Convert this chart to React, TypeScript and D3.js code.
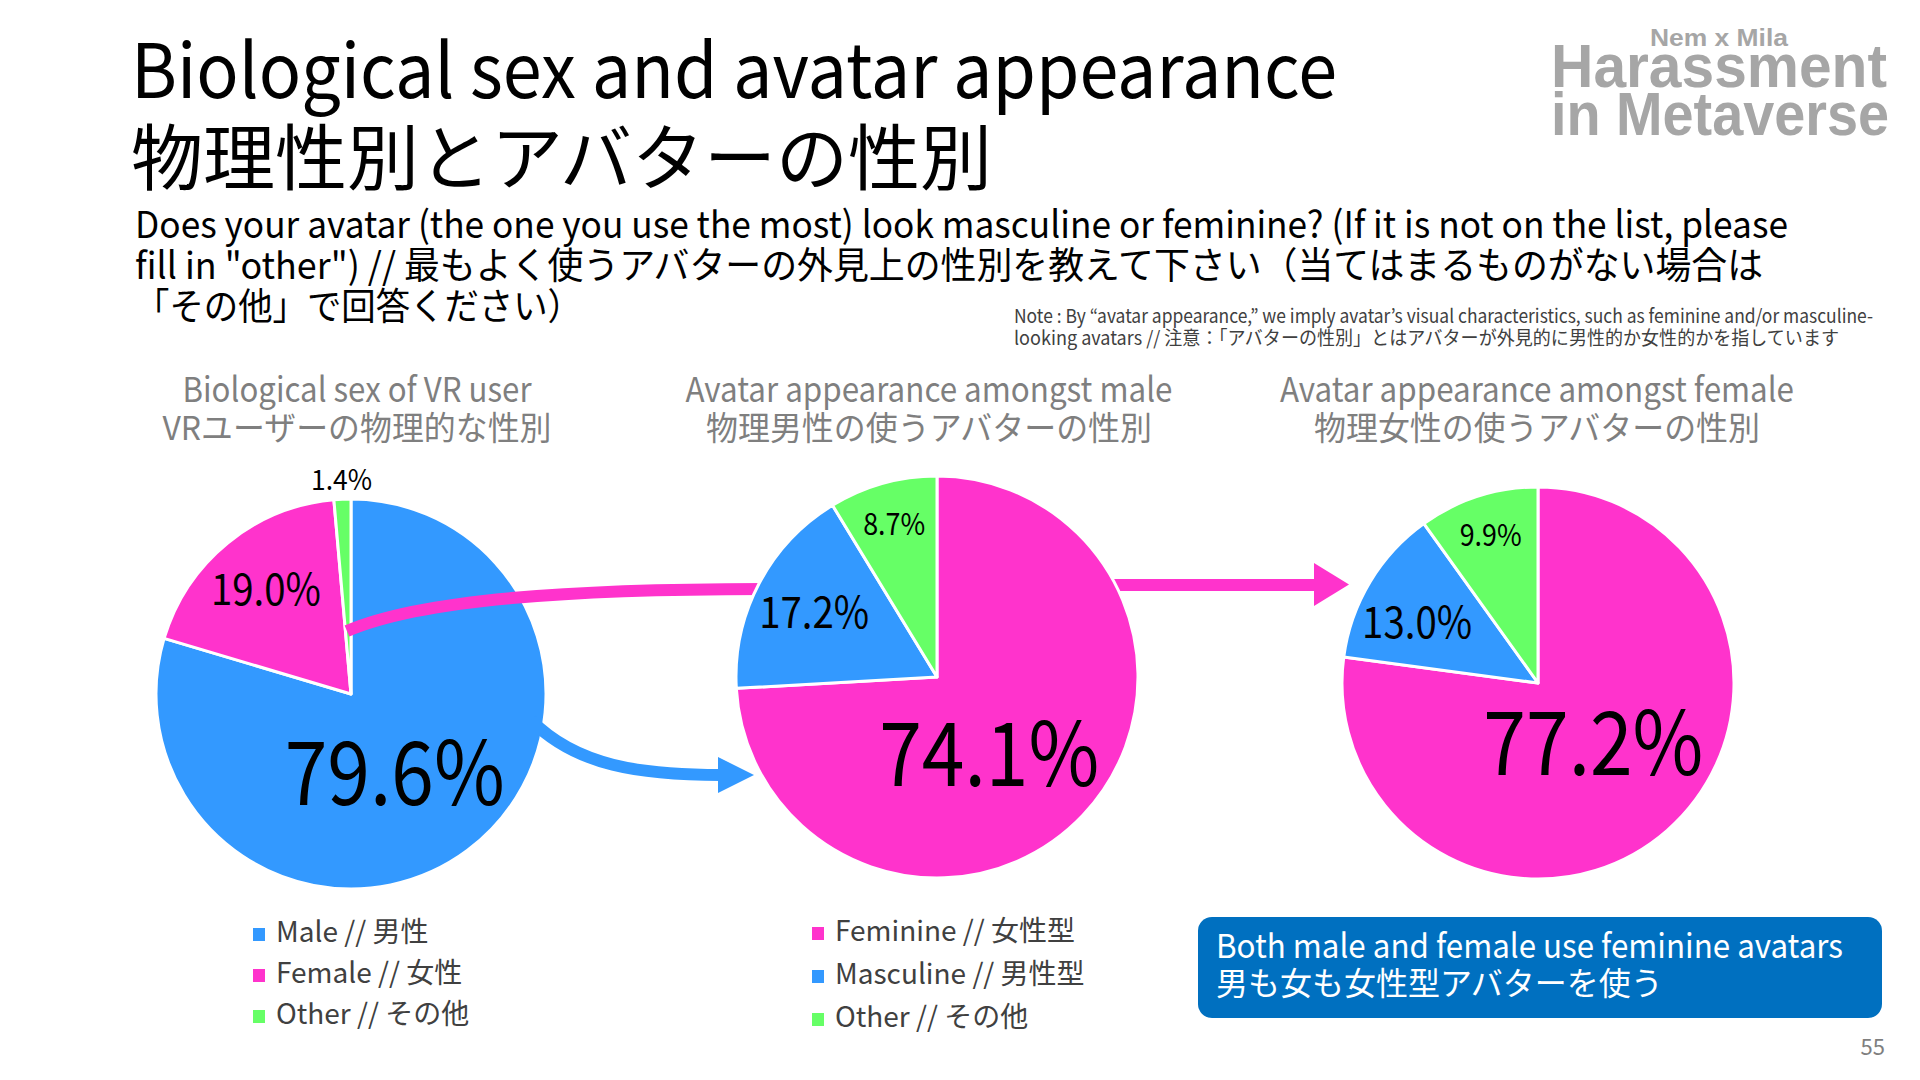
import React from 'react';
import * as d3 from 'd3';

// ---------- data ----------
const sexCategories = ['Male // 男性', 'Female // 女性', 'Other // その他'];
const sexValues = [79.6, 19.0, 1.4];
const avatarCategories = ['Feminine // 女性型', 'Masculine // 男性型', 'Other // その他'];
const maleAvatarValues = [74.1, 17.2, 8.7];
const femaleAvatarValues = [77.2, 13.0, 9.9];
const pieTitlesEn = ['Biological sex of VR user', 'Avatar appearance amongst male', 'Avatar appearance amongst female'];
const pieTitlesJa = ['VRユーザーの物理的な性別', '物理男性の使うアバターの性別', '物理女性の使うアバターの性別'];

const BLUE = '#3399FF';
const PINK = '#FF33CC';
const GREEN = '#66FF66';
const sexColors = [BLUE, PINK, GREEN];
const avatarColors = [PINK, BLUE, GREEN];

const FONT = '"Noto Sans CJK JP", "Noto Sans", sans-serif';
const LOGO_FONT = '"Liberation Sans Narrow", "Liberation Sans", sans-serif';

type PieProps = { values: number[]; colors: string[]; cx: number; cy: number; r: number };

function Pie({ values, colors, cx, cy, r }: PieProps) {
  const pie = d3.pie<number>().sort(null).startAngle(0).endAngle(2 * Math.PI);
  const arcs = pie(values);
  const arc = d3.arc<d3.PieArcDatum<number>>().innerRadius(0).outerRadius(r);
  return (
    <g transform={`translate(${cx},${cy})`}>
      {arcs.map((a, i) => (
        <path key={i} d={arc(a) || ''} fill={colors[i]} stroke="#fff" strokeWidth={3} strokeLinejoin="round" />
      ))}
    </g>
  );
}

function PieLabels({ values, cx, cy, r, nudges }: { values: number[]; cx: number; cy: number; r: number; nudges: number[][] }) {
  const pie = d3.pie<number>().sort(null).startAngle(0).endAngle(2 * Math.PI);
  const arcs = pie(values);
  return (
    <g transform={`translate(${cx},${cy})`}>
      {arcs.map((a, i) => {
        const mid = (a.startAngle + a.endAngle) / 2;
        const v = a.data;
        let f: number, size: number, len: number;
        if (v > 50) { f = 0.46; size = 88; len = 220; }
        else if (v > 11) { f = 0.69; size = 43; len = 110; }
        else if (v > 3) { f = 0.79; size = 30; len = 62; }
        else { f = 1.1; size = 28; len = 61; }
        const x = Math.sin(mid) * r * f + nudges[i][0];
        const y = -Math.cos(mid) * r * f + nudges[i][1];
        return (
          <text key={i} x={x - len / 2} y={y} dy="0.36em" fontFamily={FONT} fontSize={size} fill="#000"
            textLength={len} lengthAdjust="spacingAndGlyphs">
            {v.toFixed(1)}%
          </text>
        );
      })}
    </g>
  );
}

function Legend({ x, y, labels, colors, gap }: { x: number; y: number; labels: string[]; colors: string[]; gap: number }) {
  return (
    <g>
      {labels.map((l, i) => (
        <g key={i} transform={`translate(${x},${y + i * gap})`}>
          <rect x={0} y={-4} width={12} height={13} fill={colors[i]} />
          <text x={23} y={0} dy="0.36em" fontFamily={FONT} fontSize={28} fill="#404040">{l}</text>
        </g>
      ))}
    </g>
  );
}

export default function App() {
  const p1 = { cx: 351, cy: 694, r: 195 };
  const p2 = { cx: 937, cy: 677, r: 201 };
  const p3 = { cx: 1538, cy: 683, r: 196 };
  const titleCx = [357, 929, 1537];
  const titleLenEn = [349, 487, 514];
  const titleLenJa = [389, 446, 446];

  return (
    <svg width={1920} height={1080} style={{ position: 'absolute', left: 0, top: 0, background: '#fff' }}>
      <rect width={1920} height={1080} fill="#fff" />
      {/* Title */}
      <text x={131} y={98} fontFamily={FONT} fontSize={75} fill="#000" textLength={1206} lengthAdjust="spacingAndGlyphs">Biological sex and avatar appearance</text>
      <text x={131} y={184} fontFamily={FONT} fontSize={72} fill="#000" textLength={861} lengthAdjust="spacingAndGlyphs">物理性別とアバターの性別</text>

      {/* Logo */}
      <text x={1719} y={46} textAnchor="middle" fontFamily={LOGO_FONT} fontWeight="bold" fontSize={24} fill="#a6a6a6" textLength={138} lengthAdjust="spacingAndGlyphs">Nem x Mila</text>
      <text x={1551} y={87} fontFamily={LOGO_FONT} fontWeight="bold" fontSize={61} fill="#a6a6a6" textLength={336} lengthAdjust="spacingAndGlyphs">Harassment</text>
      <text x={1551} y={135} fontFamily={LOGO_FONT} fontWeight="bold" fontSize={61} fill="#a6a6a6" textLength={338} lengthAdjust="spacingAndGlyphs">in Metaverse</text>

      {/* Question */}
      <text x={135} y={238} fontFamily={FONT} fontSize={37} fill="#000" textLength={1653} lengthAdjust="spacingAndGlyphs">Does your avatar (the one you use the most) look masculine or feminine?  (If it is not on the list, please</text>
      <text x={135} y={279} fontFamily={FONT} fontSize={37} fill="#000" textLength={1628} lengthAdjust="spacingAndGlyphs">fill in "other") // 最もよく使うアバターの外見上の性別を教えて下さい（当てはまるものがない場合は</text>
      <text x={135} y={320} fontFamily={FONT} fontSize={37} fill="#000" textLength={447} lengthAdjust="spacingAndGlyphs">「その他」で回答ください）</text>

      {/* Note */}
      <text x={1014} y={323} fontFamily={FONT} fontSize={19} fill="#404040" textLength={859} lengthAdjust="spacingAndGlyphs">Note : By “avatar appearance,” we imply avatar’s visual characteristics, such as feminine and/or masculine-</text>
      <text x={1014} y={345} fontFamily={FONT} fontSize={19} fill="#404040" textLength={825} lengthAdjust="spacingAndGlyphs">looking avatars // 注意：「アバターの性別」とはアバターが外見的に男性的か女性的かを指しています</text>

      {/* Pie titles */}
      {pieTitlesEn.map((t, i) => (
        <text key={'te' + i} x={titleCx[i] - titleLenEn[i] / 2} y={402} fontFamily={FONT} fontSize={34} fill="#7f7f7f"
          textLength={titleLenEn[i]} lengthAdjust="spacingAndGlyphs">{t}</text>
      ))}
      {pieTitlesJa.map((t, i) => (
        <text key={'tj' + i} x={titleCx[i] - titleLenJa[i] / 2} y={440} fontFamily={FONT} fontSize={33} fill="#7f7f7f"
          textLength={titleLenJa[i]} lengthAdjust="spacingAndGlyphs">{t}</text>
      ))}

      {/* Pie 1 */}
      <Pie values={sexValues} colors={sexColors} {...p1} />
      {/* pink arrow from female slice to pie 2 (behind pie 2) */}
      <path d={`M ${p1.cx - 4} ${p1.cy - 63} C ${p1.cx + 70} ${p1.cy - 95}, ${p1.cx + 220} ${p1.cy - 105}, ${p2.cx - 165} ${p1.cy - 105}`} fill="none" stroke={PINK} strokeWidth={12} />
      {/* pink arrow from pie 2 to pie 3 */}
      <path d={`M ${p2.cx + 170} 585 L ${p3.cx - 222} 585`} fill="none" stroke={PINK} strokeWidth={12} />
      <polygon points={`${p3.cx - 224},563 ${p3.cx - 189},584.5 ${p3.cx - 224},606`} fill={PINK} />
      <Pie values={maleAvatarValues} colors={avatarColors} {...p2} />
      <Pie values={femaleAvatarValues} colors={avatarColors} {...p3} />
      {/* blue arrow from male slice to pie 2 */}
      <path d={`M ${p1.cx + 180} ${p1.cy + 26} C ${p1.cx + 225} ${p1.cy + 72}, ${p1.cx + 290} ${p1.cy + 81}, ${p1.cx + 370} ${p1.cy + 81}`} fill="none" stroke={BLUE} strokeWidth={12} />
      <polygon points={`${p1.cx + 367},${p1.cy + 63} ${p1.cx + 403},${p1.cy + 81} ${p1.cx + 367},${p1.cy + 99}`} fill={BLUE} />

      <PieLabels values={sexValues} {...p1} nudges={[[-10, 7], [0, 0], [0, 0]]} />
      <PieLabels values={maleAvatarValues} {...p2} nudges={[[-15, 14], [0, 0], [0, 0]]} />
      <PieLabels values={femaleAvatarValues} {...p3} nudges={[[-4, -8], [-5, 9], [0, 0]]} />

      {/* Legends */}
      <Legend x={253} y={932} labels={sexCategories} colors={sexColors} gap={41} />
      <Legend x={812} y={931} labels={avatarCategories} colors={avatarColors} gap={43} />

      {/* Callout */}
      <rect x={1198} y={917} width={684} height={101} rx={14} fill="#0070C0" />
      <text x={1216} y={958} fontFamily={FONT} fontSize={33} fill="#fff" textLength={627} lengthAdjust="spacingAndGlyphs">Both male and female use feminine avatars</text>
      <text x={1216} y={995} fontFamily={FONT} fontSize={32} fill="#fff">男も女も女性型アバターを使う</text>

      <text x={1885} y={1055} textAnchor="end" fontFamily={FONT} fontSize={22} fill="#7f7f7f">55</text>
    </svg>
  );
}
